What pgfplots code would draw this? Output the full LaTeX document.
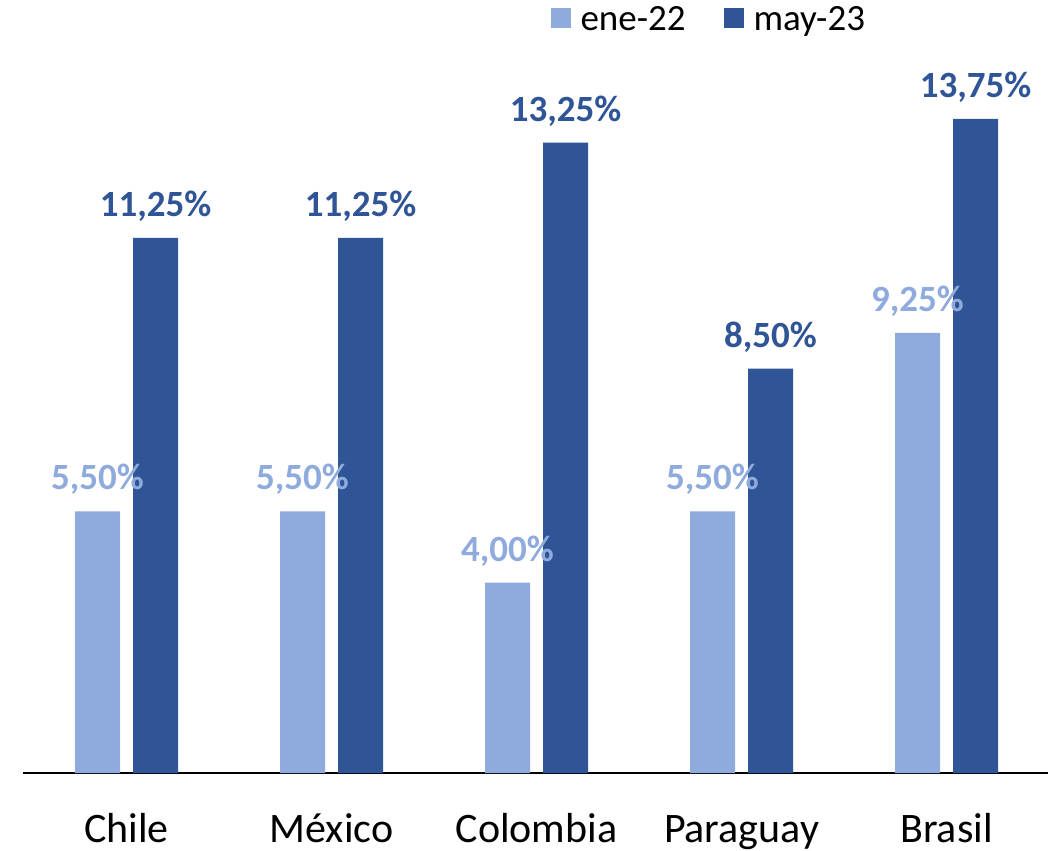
\documentclass[border=0pt]{standalone}
\usepackage{fontspec}
\setmainfont{Carlito}
\usepackage{pgfplots}
\pgfplotsset{compat=1.18}
\definecolor{lightblue}{HTML}{8FAADC}
\definecolor{darkblue}{HTML}{2F5597}

\begin{document}
\begin{tikzpicture}
    \useasboundingbox (-11.5pt,-38.5pt) rectangle (517.5pt,386.5pt);
    \begin{axis}[
        at={(0,0)}, anchor=south west,
        scale only axis,
        width=512.5pt,
        height=386.5pt,
        xmin=-0.505, xmax=4.495,
        ymin=0, ymax=16.25,
        ybar=6.5pt,
        bar width=22.5pt,
        axis x line*=bottom,
        axis y line=none,
        x axis line style={line width=1pt, -},
        xtick=data,
        xticklabels={Chile, México, Colombia, Paraguay, Brasil},
        major tick length=0pt,
        xticklabel style={font=\fontsize{21}{25}\selectfont, anchor=base, yshift=-34.5pt},
        point meta=explicit symbolic,
        nodes near coords,
        nodes near coords style={font=\bfseries\fontsize{18.5}{22}\selectfont, anchor=south, inner sep=0pt, yshift=8pt},
        clip=false,
        legend columns=2,
        legend style={
            draw=none, fill=none,
            at={(0.67,0.974)}, anchor=center,
            font=\fontsize{18.5}{22}\selectfont,
            /tikz/every odd column/.append style={column sep=3pt},
            /tikz/every even column/.append style={column sep=17pt},
        },
        legend image code/.code={\fill[#1] (0pt,-4pt) rectangle (10pt,6pt);},
    ]
    \addplot[fill=lightblue, draw=none, nodes near coords style={text=lightblue}]
        coordinates {(0,5.50)[5,50\%] (1,5.50)[5,50\%] (2,4.00)[4,00\%] (3,5.50)[5,50\%] (4,9.25)[9,25\%]};
    \addplot[fill=darkblue, draw=none, nodes near coords style={text=darkblue}]
        coordinates {(0,11.25)[11,25\%] (1,11.25)[11,25\%] (2,13.25)[13,25\%] (3,8.50)[8,50\%] (4,13.75)[13,75\%]};
    \legend{ene-22, may-23}
    \end{axis}
\end{tikzpicture}
\end{document}
